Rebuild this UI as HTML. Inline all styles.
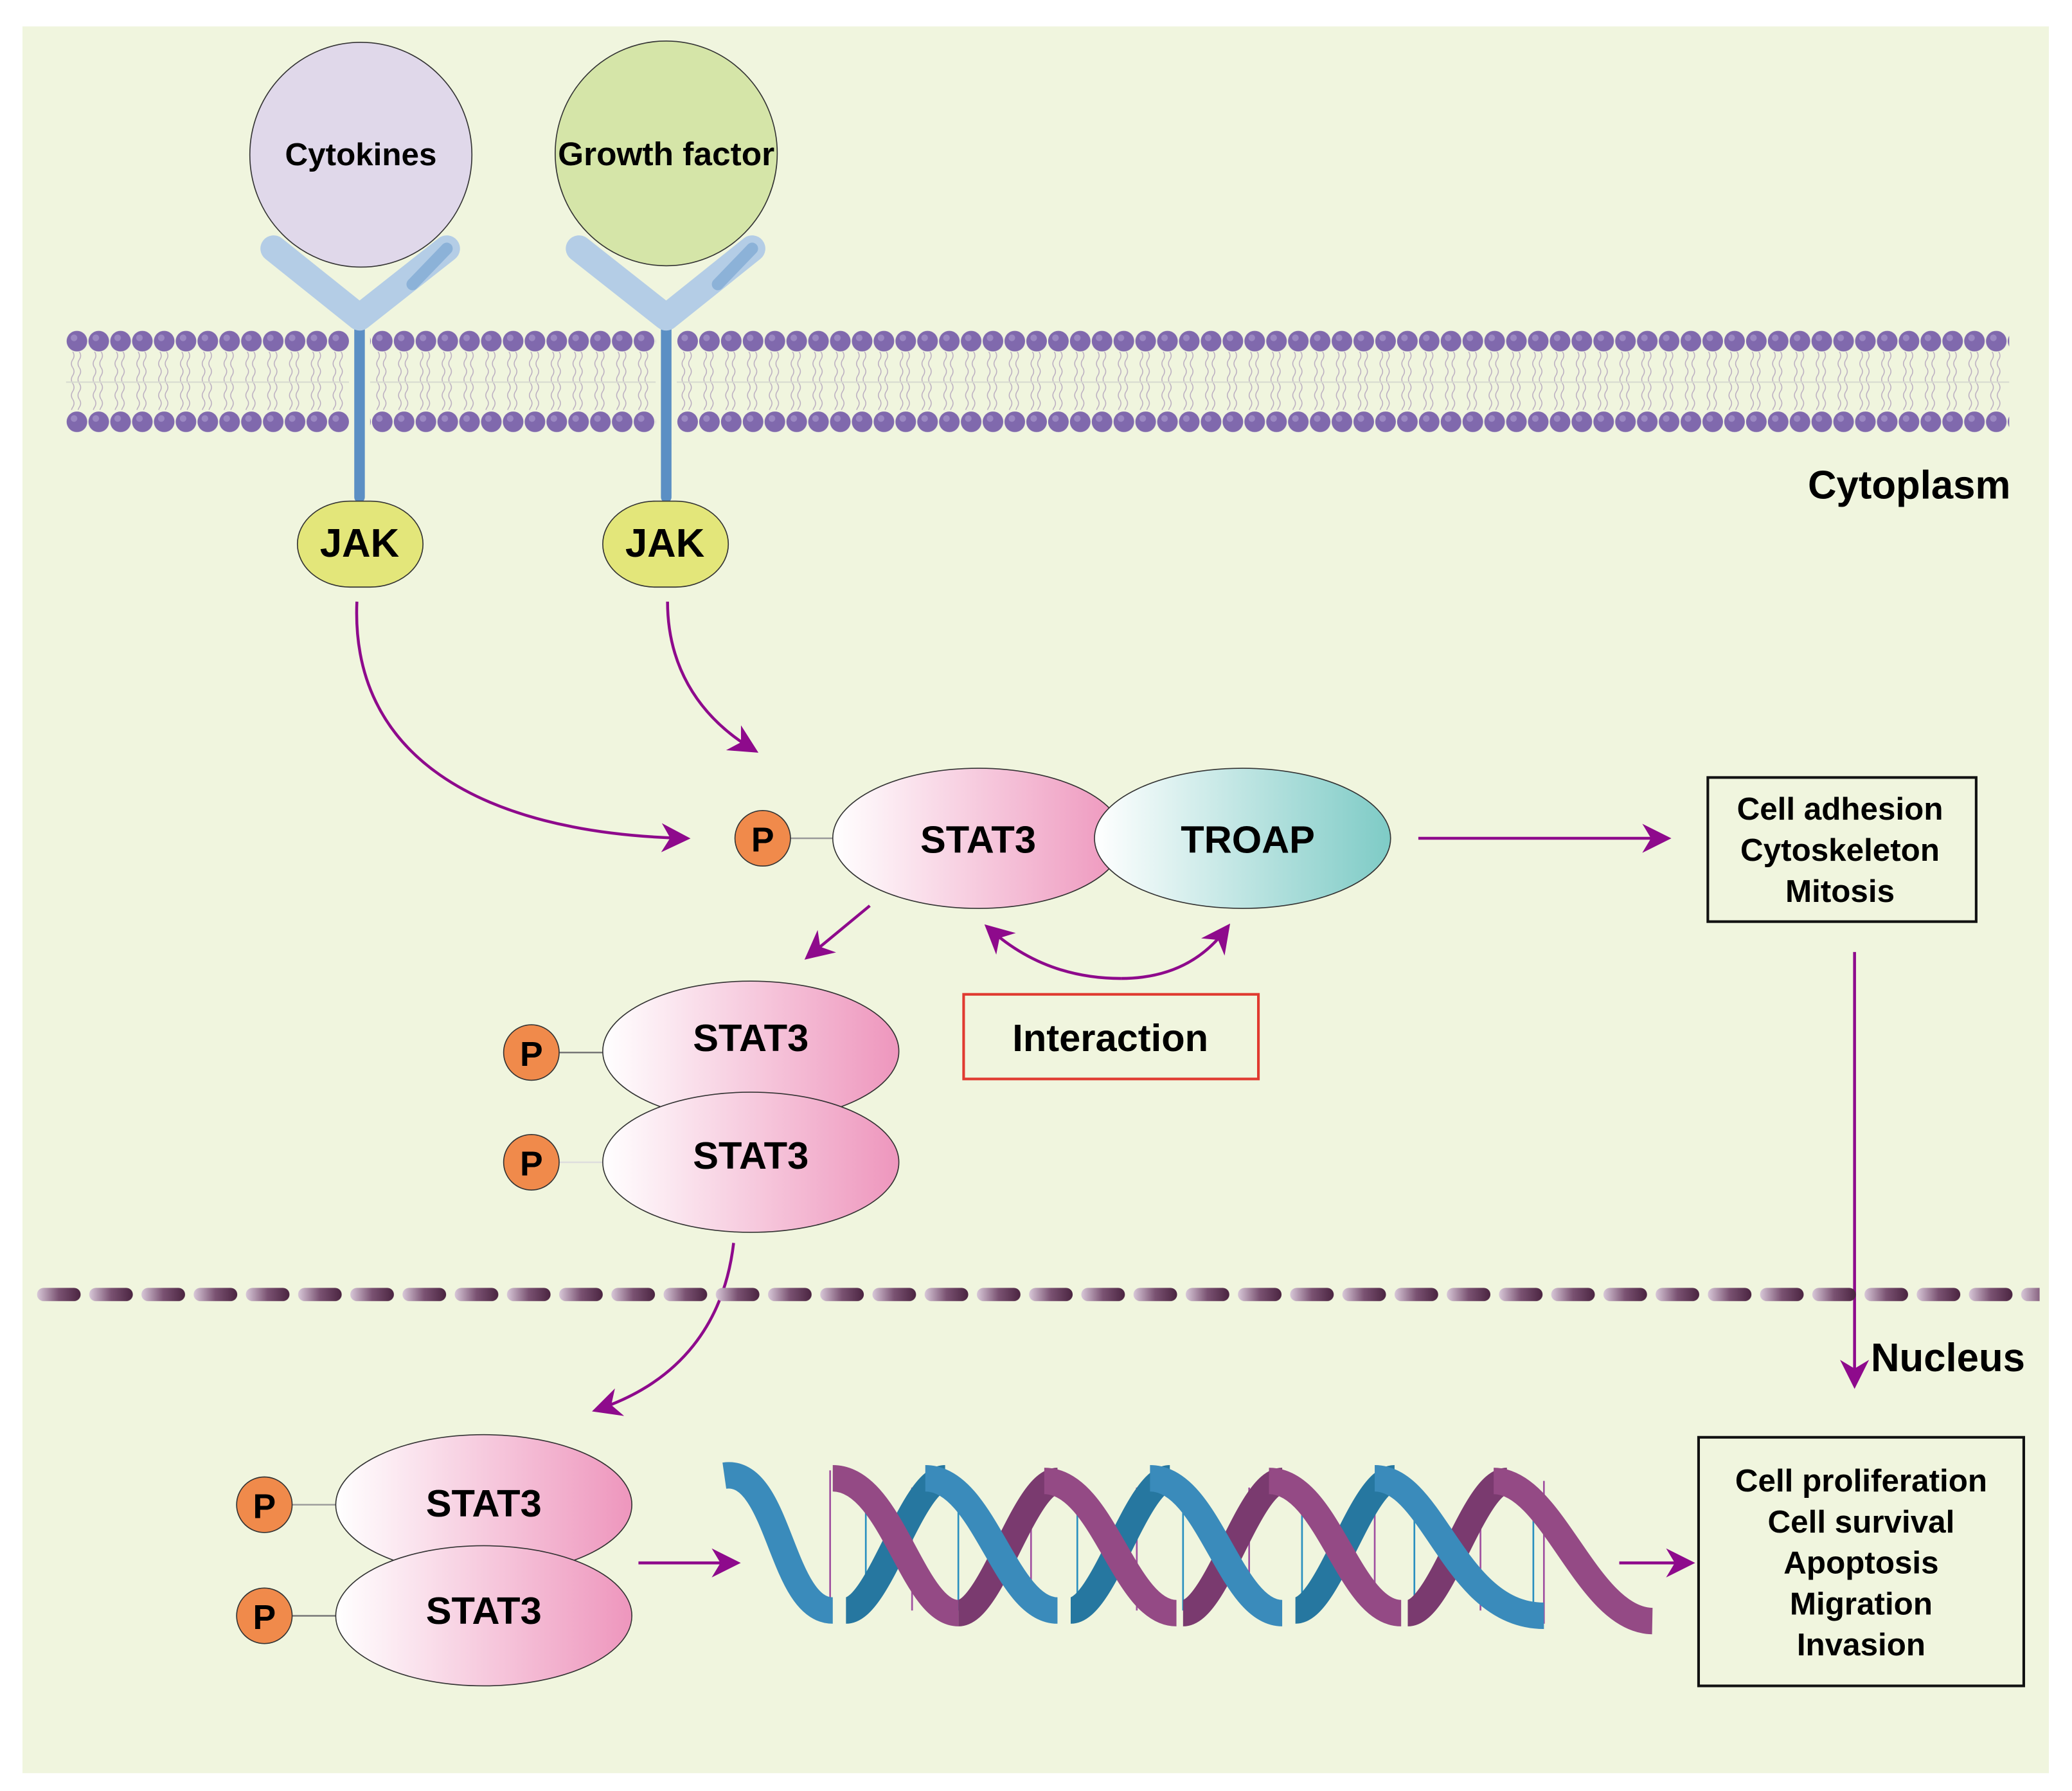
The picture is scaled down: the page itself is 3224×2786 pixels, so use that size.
<!DOCTYPE html>
<html><head><meta charset="utf-8"><style>html,body{margin:0;padding:0;background:#fff}svg{display:block}</style></head>
<body>
<svg width="3224" height="2786" viewBox="0 0 1567.5 1354.5" preserveAspectRatio="none" xmlns="http://www.w3.org/2000/svg" font-family="'Liberation Sans', sans-serif" font-weight="bold">
<defs>
<linearGradient id="pink" x1="0" x2="1" y1="0" y2="0"><stop offset="0" stop-color="#fff"/><stop offset="1" stop-color="#ee96bd"/></linearGradient>
<linearGradient id="teal" x1="0" x2="1" y1="0" y2="0"><stop offset="0" stop-color="#fff"/><stop offset="1" stop-color="#7ecbc6"/></linearGradient>
<linearGradient id="dash" x1="0" x2="1" y1="0" y2="0"><stop offset="0" stop-color="#d8c8d8"/><stop offset="0.5" stop-color="#7a5272"/><stop offset="1" stop-color="#4a2440"/></linearGradient>
<pattern id="headsA" x="50" y="248" width="16.5" height="20" patternUnits="userSpaceOnUse"><circle cx="8.2" cy="10" r="7.8" fill="#8069ad"/><circle cx="6" cy="7.5" r="2.5" fill="#9b88c2"/></pattern>
<pattern id="headsB" x="50" y="309" width="16.5" height="20" patternUnits="userSpaceOnUse"><circle cx="8.2" cy="10" r="7.8" fill="#8069ad"/><circle cx="6" cy="7.5" r="2.5" fill="#9b88c2"/></pattern>
<pattern id="tails" x="50" y="266" width="16.5" height="12" patternUnits="userSpaceOnUse"><path d="M5,0 q2,3 0,6 q-2,3 0,6 M10,0 q2,3 0,6 q-2,3 0,6" stroke="#b8aabf" stroke-width="0.7" fill="none"/></pattern>
<pattern id="dashp" x="28" y="969" width="39.5" height="20" patternUnits="userSpaceOnUse"><rect x="0" y="5" width="33" height="10" rx="5" fill="url(#dash)"/></pattern>
<marker id="ah" markerWidth="10" markerHeight="10" refX="8" refY="5" orient="auto" markerUnits="strokeWidth"><path d="M0,0 L10,5 L0,10 L3,5 z" fill="#8e0a8c"/></marker>
</defs>
<rect x="0" y="0" width="1567.5" height="1354.5" fill="#fff"/>
<rect x="17" y="20" width="1533" height="1321" fill="#f0f5de"/>

<!-- membrane -->
<g>
<rect x="50" y="266" width="1470" height="44" fill="url(#tails)"/>
<line x1="50" y1="289" x2="1520" y2="289" stroke="#d8dcd0" stroke-width="1"/>
<rect x="50" y="248" width="1470" height="20" fill="url(#headsA)"/>
<rect x="50" y="309" width="1470" height="20" fill="url(#headsB)"/>
<rect x="264" y="240" width="16" height="95" fill="#f0f5de"/>
<rect x="496" y="240" width="16" height="95" fill="#f0f5de"/>
</g>

<!-- receptors -->
<g>
<line x1="272" y1="240" x2="272" y2="376" stroke="#5b8fc4" stroke-width="8" stroke-linecap="round"/>
<path d="M207,188 L272,240 L338,188" stroke="#b4cde6" stroke-width="20" fill="none" stroke-linecap="round" stroke-linejoin="round"/>
<line x1="312" y1="215" x2="338" y2="188" stroke="#8cb2d8" stroke-width="9" stroke-linecap="round"/>
<ellipse cx="273" cy="117" rx="84" ry="85" fill="#e0d8ea" stroke="#333" stroke-width="0.8"/>
<text x="273" y="125" font-size="24" text-anchor="middle">Cytokines</text>

<line x1="504" y1="240" x2="504" y2="376" stroke="#5b8fc4" stroke-width="8" stroke-linecap="round"/>
<path d="M438,188 L504,240 L569,188" stroke="#b4cde6" stroke-width="20" fill="none" stroke-linecap="round" stroke-linejoin="round"/>
<line x1="543" y1="215" x2="569" y2="188" stroke="#8cb2d8" stroke-width="9" stroke-linecap="round"/>
<ellipse cx="504" cy="116" rx="84" ry="85" fill="#d5e5a8" stroke="#333" stroke-width="0.8"/>
<text x="504" y="125" font-size="25" text-anchor="middle">Growth factor</text>
</g>

<!-- JAK -->
<rect x="225" y="379" width="95" height="65" rx="40" fill="#e3e67a" stroke="#333" stroke-width="0.8"/>
<text x="272" y="421" font-size="30" text-anchor="middle">JAK</text>
<rect x="456" y="379" width="95" height="65" rx="40" fill="#e3e67a" stroke="#333" stroke-width="0.8"/>
<text x="503" y="421" font-size="30" text-anchor="middle">JAK</text>

<text x="1521" y="377" font-size="30" text-anchor="end">Cytoplasm</text>

<!-- arrows -->
<g stroke="#8e0a8c" stroke-width="2.2" fill="none">
<path d="M270,455 C265,570 360,630 518,634" marker-end="url(#ah)"/>
<path d="M505,455 C505,500 525,540 570,567" marker-end="url(#ah)"/>
<path d="M1073,634 L1260,634" marker-end="url(#ah)"/>
<path d="M658,685 L612,723" marker-end="url(#ah)"/>
<path d="M848,740 Q900,740 928,702" marker-end="url(#ah)"/>
<path d="M848,740 Q790,740 748,702" marker-end="url(#ah)"/>
<path d="M1403,720 L1403,1046" marker-end="url(#ah)"/>
<path d="M555,940 C548,1000 515,1045 452,1066" marker-end="url(#ah)"/>
<path d="M483,1182 L556,1182" marker-end="url(#ah)"/>
<path d="M1225,1182 L1278,1182" marker-end="url(#ah)"/>
</g>

<!-- STAT3 / TROAP -->
<line x1="597" y1="634" x2="632" y2="634" stroke="#999" stroke-width="1.2"/>
<ellipse cx="740" cy="634" rx="110" ry="53" fill="url(#pink)" stroke="#333" stroke-width="0.8"/>
<ellipse cx="940" cy="634" rx="112" ry="53" fill="url(#teal)" stroke="#333" stroke-width="0.8"/>
<text x="740" y="645" font-size="29" text-anchor="middle">STAT3</text>
<text x="944" y="645" font-size="29" text-anchor="middle">TROAP</text>
<circle cx="577" cy="634" r="21" fill="#f08a4b" stroke="#333" stroke-width="0.8"/>
<text x="577" y="644" font-size="26" text-anchor="middle">P</text>

<rect x="1292" y="588" width="203" height="109" fill="none" stroke="#111" stroke-width="2"/>
<g font-size="24" text-anchor="middle"><text x="1392" y="620">Cell adhesion</text><text x="1392" y="651">Cytoskeleton</text><text x="1392" y="682">Mitosis</text></g>

<rect x="729" y="752" width="223" height="64" fill="none" stroke="#e03a30" stroke-width="2"/>
<text x="840" y="795" font-size="29" text-anchor="middle">Interaction</text>

<!-- dimer 1 -->
<line x1="422" y1="796" x2="458" y2="796" stroke="#777" stroke-width="1.2"/>
<line x1="422" y1="879" x2="458" y2="879" stroke="#ddd" stroke-width="1.2"/>
<ellipse cx="568" cy="795" rx="112" ry="53" fill="url(#pink)" stroke="#333" stroke-width="0.8"/>
<ellipse cx="568" cy="879" rx="112" ry="53" fill="url(#pink)" stroke="#333" stroke-width="0.8"/>
<text x="568" y="795" font-size="29" text-anchor="middle">STAT3</text>
<text x="568" y="884" font-size="29" text-anchor="middle">STAT3</text>
<circle cx="402" cy="796" r="21" fill="#f08a4b" stroke="#333" stroke-width="0.8"/>
<text x="402" y="806" font-size="26" text-anchor="middle">P</text>
<circle cx="402" cy="879" r="21" fill="#f08a4b" stroke="#333" stroke-width="0.8"/>
<text x="402" y="889" font-size="26" text-anchor="middle">P</text>

<!-- nuclear membrane -->
<rect x="28" y="969" width="1515" height="20" fill="url(#dashp)"/>
<text x="1532" y="1037" font-size="30" text-anchor="end">Nucleus</text>

<!-- dimer 2 -->
<line x1="220" y1="1138" x2="256" y2="1138" stroke="#999" stroke-width="1.2"/>
<line x1="220" y1="1222" x2="256" y2="1222" stroke="#777" stroke-width="1.2"/>
<ellipse cx="366" cy="1138" rx="112" ry="53" fill="url(#pink)" stroke="#333" stroke-width="0.8"/>
<ellipse cx="366" cy="1222" rx="112" ry="53" fill="url(#pink)" stroke="#333" stroke-width="0.8"/>
<text x="366" y="1147" font-size="29" text-anchor="middle">STAT3</text>
<text x="366" y="1228" font-size="29" text-anchor="middle">STAT3</text>
<circle cx="200" cy="1138" r="21" fill="#f08a4b" stroke="#333" stroke-width="0.8"/>
<text x="200" y="1148" font-size="26" text-anchor="middle">P</text>
<circle cx="200" cy="1222" r="21" fill="#f08a4b" stroke="#333" stroke-width="0.8"/>
<text x="200" y="1232" font-size="26" text-anchor="middle">P</text>

<!-- DNA -->
<g stroke-width="1.3">
<g stroke="#2a90c0"><line x1="655" y1="1125" x2="655" y2="1218"/><line x1="725" y1="1125" x2="725" y2="1218"/><line x1="815" y1="1125" x2="815" y2="1218"/><line x1="895" y1="1125" x2="895" y2="1218"/><line x1="985" y1="1125" x2="985" y2="1218"/><line x1="1070" y1="1125" x2="1070" y2="1218"/><line x1="1160" y1="1125" x2="1160" y2="1218"/></g>
<g stroke="#a050a0"><line x1="628" y1="1112" x2="628" y2="1218"/><line x1="690" y1="1125" x2="690" y2="1218"/><line x1="780" y1="1125" x2="780" y2="1218"/><line x1="860" y1="1125" x2="860" y2="1218"/><line x1="945" y1="1125" x2="945" y2="1218"/><line x1="1040" y1="1125" x2="1040" y2="1218"/><line x1="1120" y1="1125" x2="1120" y2="1218"/><line x1="1168" y1="1120" x2="1168" y2="1228"/></g>
</g>
<g fill="none" stroke-width="20" stroke-linejoin="round">
<path stroke="#2677a0" d="M640,1218 C665,1218 690,1118 715,1118 M810,1218 C835,1218 860,1118 885,1118 M980,1218 C1005,1218 1030,1118 1055,1118"/>
<path stroke="#7a3a6f" d="M725,1220 C750,1220 775,1120 800,1120 M895,1220 C920,1220 945,1120 970,1120 M1065,1220 C1090,1220 1115,1120 1140,1120"/>
<path stroke="#3a8bbb" d="M548,1116 C590,1110 590,1218 630,1218 M700,1118 C745,1118 760,1218 800,1218 M870,1118 C915,1118 930,1220 970,1220 M1040,1118 C1085,1118 1100,1222 1168,1222"/>
<path stroke="#944a85" d="M630,1118 C675,1118 690,1220 725,1220 M790,1120 C835,1120 850,1220 890,1220 M960,1120 C1005,1120 1020,1220 1060,1220 M1130,1120 C1175,1120 1200,1225 1250,1226"/>
</g>

<rect x="1285" y="1087" width="246" height="188" fill="none" stroke="#111" stroke-width="2"/>
<g font-size="24" text-anchor="middle"><text x="1408" y="1128">Cell proliferation</text><text x="1408" y="1159">Cell survival</text><text x="1408" y="1190">Apoptosis</text><text x="1408" y="1221">Migration</text><text x="1408" y="1252">Invasion</text></g>
</svg>
</body></html>
